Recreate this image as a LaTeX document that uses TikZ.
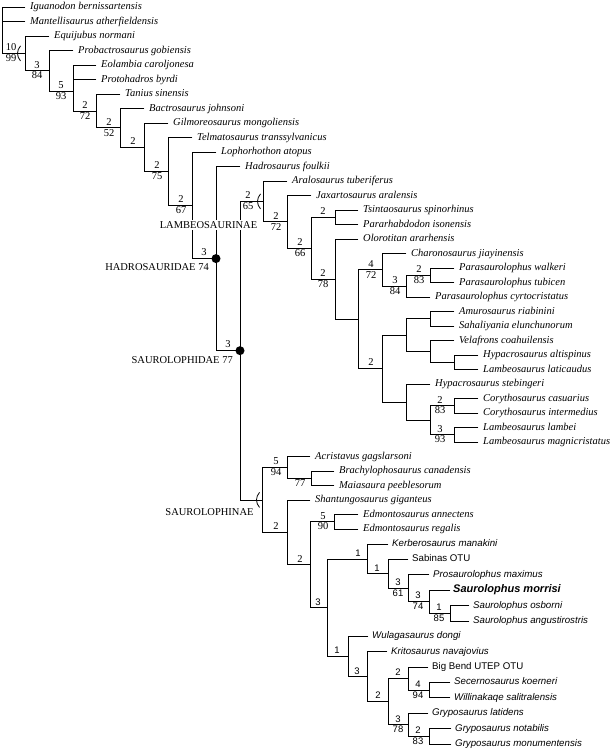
\documentclass[tikz,border=0pt]{standalone}
\usepackage{fontspec}
\setmainfont{Liberation Serif}
\setsansfont{Liberation Sans}

\tikzset{
    branch/.style={line width=0.8pt, line cap=rect},
    taxon/.style={anchor=west, inner xsep=5pt, inner ysep=0pt, text height=7pt, text depth=2pt,
        font=\fontsize{10.5}{12}\selectfont\itshape},
    staxon/.style={taxon, inner xsep=4pt, font=\sffamily\fontsize{9.7}{11}\selectfont\itshape},
    otu/.style={staxon, font=\sffamily\fontsize{9.7}{11}\selectfont},
    bremer/.style={anchor=south, inner sep=0pt, yshift=2.5pt, text height=7pt, text depth=0pt,
        font=\fontsize{10.5}{12}\selectfont},
    boot/.style={bremer, anchor=north, yshift=-3.5pt},
    sbremer/.style={bremer, font=\sffamily\fontsize{9.5}{11}\selectfont},
    sboot/.style={boot, font=\sffamily\fontsize{9.5}{11}\selectfont},
    clade/.style={inner sep=1pt, font=\fontsize{10.5}{12}\selectfont}
}

\begin{document}
\begin{tikzpicture}[x=1pt, y=-1pt]
    \useasboundingbox (0,0) rectangle (612,750);

    % internal nodes
    \foreach \n/\x/\y in {root/2/53.4, nA/25/53.4, nB/49/70.75, nC/73/91, nD/96/110.9,
        nE/120/127.85, nF/144/147.2, nG/168/171.4, nH/192/205.3,
        hadrosauridae/216/258.6, saurolophidae/240/350.65,
        lambeosaurinae/263/201.4, nL/287/221.85, nM/311/248.2, nN/335/217.25,
        nO/335/279.1, nP/358/319.2, nQ/382/269.8, nR/406/286.1, nS/430/275.25,
        nT/382/368.6, nU/406/335.1, nV/430/318.75, nW/430/351.4, nX/454/362.25,
        nY/406/402.1, nZ/430/420.25, nZa/454/405.75, nZb/454/434.75,
        saurolophinae/262/499.9, nAB/287/467.4, nAC/311/478.25, nAD/287/532.35,
        nAE/310/564.7, nAF/334/521.75, nAG/327/607.7, nAH/367/558.9,
        nAI/388/573.8, nAJ/408/588.2, nAK/429/601.65, nAL/450/613.2,
        nAM/348/656.5, nAN/367/676.7, nAO/388/701.65, nAP/408/678.55,
        nAQ/429/690.1, nAR/408/724.75, nAS/429/736.3} {
        \coordinate (\n) at (\x,\y);
    }

    % taxa
    \foreach \n/\x/\y/\t in {
        iguanodon/25/7/Iguanodon bernissartensis,
        mantellisaurus/25/21.5/Mantellisaurus atherfieldensis,
        equijubus/49/36/Equijubus normani,
        probactrosaurus/73/50.5/Probactrosaurus gobiensis,
        eolambia/96/65/Eolambia caroljonesa,
        protohadros/96/79.5/Protohadros byrdi,
        tanius/120/94/Tanius sinensis,
        bactrosaurus/144/108.5/Bactrosaurus johnsoni,
        gilmoreosaurus/168/123/Gilmoreosaurus mongoliensis,
        telmatosaurus/192/137.5/Telmatosaurus transsylvanicus,
        lophorhothon/216/152/Lophorhothon atopus,
        hadrosaurus/240/166.5/Hadrosaurus foulkii,
        aralosaurus/287/181/Aralosaurus tuberiferus,
        jaxartosaurus/311/195.5/Jaxartosaurus aralensis,
        tsintaosaurus/358/210/Tsintaosaurus spinorhinus,
        pararhabdodon/358/224.5/Pararhabdodon isonensis,
        olorotitan/358/239/Olorotitan ararhensis,
        charonosaurus/406/253.5/Charonosaurus jiayinensis,
        pwalkeri/454/268/Parasaurolophus walkeri,
        ptubicen/454/282.5/Parasaurolophus tubicen,
        pcyrto/430/297/Parasaurolophus cyrtocristatus,
        amurosaurus/454/311.5/Amurosaurus riabinini,
        sahaliyania/454/326/Sahaliyania elunchunorum,
        velafrons/454/340.5/Velafrons coahuilensis,
        haltispinus/478/355/Hypacrosaurus altispinus,
        llaticaudus/478/369.5/Lambeosaurus laticaudus,
        hstebingeri/430/384/Hypacrosaurus stebingeri,
        ccasuarius/478/398.5/Corythosaurus casuarius,
        cintermedius/478/413/Corythosaurus intermedius,
        llambei/478/427.5/Lambeosaurus lambei,
        lmagni/478/442/Lambeosaurus magnicristatus,
        acristavus/310/456.5/Acristavus gagslarsoni,
        brachylophosaurus/334/471/Brachylophosaurus canadensis,
        maiasaura/334/485.5/Maiasaura peeblesorum,
        shantungosaurus/310/500/Shantungosaurus giganteus,
        eannectens/358/514.5/Edmontosaurus annectens,
        eregalis/358/529/Edmontosaurus regalis} {
        \node[taxon] (\n) at (\x,\y) {\t};
    }
    \foreach \n/\x/\y/\t in {
        kerberosaurus/388/544/Kerberosaurus manakini,
        prosaurolophus/429/574.8/Prosaurolophus maximus,
        sosborni/469/605.5/Saurolophus osborni,
        sangust/469/620.9/Saurolophus angustirostris,
        wulagasaurus/368/636.3/Wulagasaurus dongi,
        kritosaurus/387/651.7/Kritosaurus navajovius,
        secernosaurus/450/682.4/Secernosaurus koerneri,
        willinakaqe/450/697.8/Willinakaqe salitralensis,
        glatidens/428/713.2/Gryposaurus latidens,
        gnotabilis/451/728.6/Gryposaurus notabilis,
        gmonument/451/744/Gryposaurus monumentensis} {
        \node[staxon] (\n) at (\x,\y) {\t};
    }
    \node[otu] (sabinas) at (408,559.4) {Sabinas OTU};
    \node[otu] (bigbend) at (428,667) {Big Bend UTEP OTU};
    \node[staxon, inner xsep=3pt, font=\sffamily\bfseries\itshape\fontsize{11}{13}\selectfont]
        (smorrisi) at (450,590.1) {Saurolophus morrisi};

    % branches
    \foreach \p/\c in {root/nA, nA/nB, nB/nC, nC/nD, nD/nE, nE/nF, nF/nG, nG/nH,
        nH/hadrosauridae, hadrosauridae/saurolophidae, saurolophidae/lambeosaurinae,
        lambeosaurinae/nL, nL/nM, nM/nN, nM/nO, nO/nP, nP/nQ, nQ/nR, nR/nS, nP/nT,
        nT/nU, nU/nV, nU/nW, nW/nX, nT/nY, nY/nZ, nZ/nZa, nZ/nZb,
        saurolophidae/saurolophinae, saurolophinae/nAB, nAB/nAC, saurolophinae/nAD,
        nAD/nAE, nAE/nAF, nAE/nAG, nAG/nAH, nAH/nAI, nAI/nAJ, nAJ/nAK, nAK/nAL,
        nAG/nAM, nAM/nAN, nAN/nAO, nAO/nAP, nAP/nAQ, nAO/nAR, nAR/nAS} {
        \draw[branch] (\p) |- (\c);
    }
    \foreach \p/\c in {root/iguanodon, root/mantellisaurus, nA/equijubus,
        nB/probactrosaurus, nC/eolambia, nC/protohadros, nD/tanius, nE/bactrosaurus,
        nF/gilmoreosaurus, nG/telmatosaurus, nH/lophorhothon, hadrosauridae/hadrosaurus,
        lambeosaurinae/aralosaurus, nL/jaxartosaurus, nN/tsintaosaurus, nN/pararhabdodon,
        nO/olorotitan, nQ/charonosaurus, nS/pwalkeri, nS/ptubicen, nR/pcyrto,
        nV/amurosaurus, nV/sahaliyania, nW/velafrons, nX/haltispinus, nX/llaticaudus,
        nY/hstebingeri, nZa/ccasuarius, nZa/cintermedius, nZb/llambei, nZb/lmagni,
        nAB/acristavus, nAC/brachylophosaurus, nAC/maiasaura, nAD/shantungosaurus,
        nAF/eannectens, nAF/eregalis, nAH/kerberosaurus, nAI/sabinas,
        nAJ/prosaurolophus, nAK/smorrisi, nAL/sosborni, nAL/sangust,
        nAM/wulagasaurus, nAN/kritosaurus, nAP/bigbend, nAQ/secernosaurus,
        nAQ/willinakaqe, nAR/glatidens, nAS/gnotabilis, nAS/gmonument} {
        \draw[branch] (\p) |- (\c.west);
    }

    % node-based clades
    \foreach \bx/\by in {18/53.4, 258/201.4, 257/499.9} {
        \draw[branch, line cap=butt] (\bx+2.5,\by-7.5) .. controls (\bx-1.5,\by-3) and (\bx-1.5,\by+3) .. (\bx+2.5,\by+7.5);
    }
    \fill (hadrosauridae) circle (4.5pt);
    \fill (saurolophidae) circle (4.5pt);

    % support values
    \foreach \x/\y/\v [count=\i] in {11/53.4/10, 37/70.75/3, 61/91/5, 85/110.9/2,
        109/127.85/2, 133/147.2/2, 157/171.4/2, 181/205.3/2, 204/258.6/3,
        228/350.65/3, 248/201.4/2, 276/221.85/2, 300/248.2/2, 323/217.25/2,
        323/279.1/2, 371/269.8/4, 395/286.1/3, 419/275.25/2, 371/368.6/2,
        440/405.75/2, 440/434.75/3, 276/467.4/5, 276/532.35/2, 300/564.7/2,
        323/521.75/5} {
        \node[bremer] (br\i) at (\x,\y) {\v};
    }
    \foreach \x/\y/\v [count=\i] in {11/53.4/99, 37/70.75/84, 61/91/93, 85/110.9/72,
        109/127.85/52, 157/171.4/75, 181/205.3/67, 248/201.4/65, 276/221.85/72,
        300/248.2/66, 323/279.1/78, 371/269.8/72, 395/286.1/84, 419/275.25/83,
        440/405.75/83, 440/434.75/93, 276/467.4/94, 300/478.25/77, 323/521.75/90} {
        \node[boot] (bt\i) at (\x,\y) {\v};
    }
    \foreach \x/\y/\v [count=\i] in {318/607.7/3, 358/558.9/1, 377/573.8/1,
        398/588.2/3, 418/601.65/3, 439/613.2/1, 337/656.5/1, 357/676.7/3,
        378/701.65/2, 398/678.55/2, 418/690.1/4, 398/724.75/3, 418/736.3/2} {
        \node[sbremer] (sbr\i) at (\x,\y) {\v};
    }
    \foreach \x/\y/\v [count=\i] in {398/588.2/61, 418/601.65/74, 439/613.2/85,
        418/690.1/94, 398/724.75/78, 418/736.3/83} {
        \node[sboot] (sbt\i) at (\x,\y) {\v};
    }

    % clade names
    \node[clade, anchor=east] (hadlabel) at (210,267) {HADROSAURIDAE 74};
    \node[clade, anchor=east] (saulabel) at (234,360) {SAUROLOPHIDAE 77};
    \node[clade, fill=white] (lamlabel) at (208.5,225) {LAMBEOSAURINAE};
    \node[clade] (sinlabel) at (209.5,512) {SAUROLOPHINAE};
\end{tikzpicture}
\end{document}
